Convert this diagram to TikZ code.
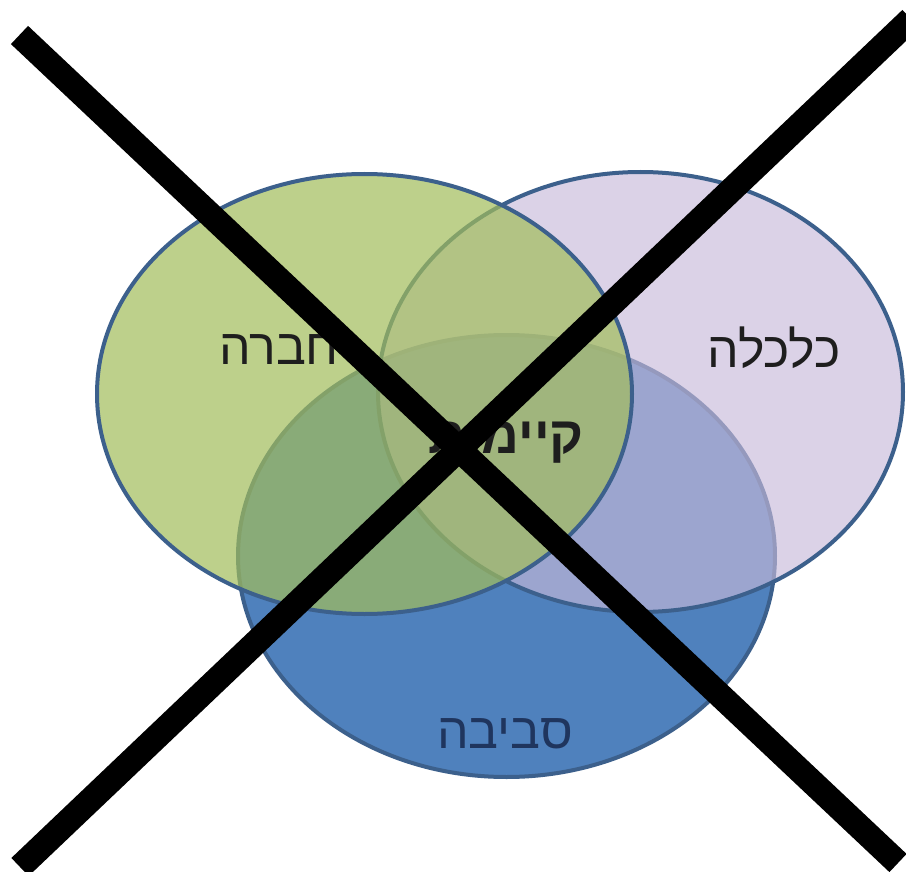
\documentclass[tikz,border=0pt]{standalone}
\usepackage{fontspec}
\usetikzlibrary{shapes.geometric}
\newfontfamily\hebfont[Script=Hebrew]{Liberation Sans}
\TeXXeTstate=1
\definecolor{edgeblue}{RGB}{60,96,140}
\definecolor{vgreen}{RGB}{162,189,91}
\definecolor{vpurple}{RGB}{200,186,218}
\definecolor{vblue}{RGB}{79,129,189}
\definecolor{txtdark}{RGB}{30,30,30}
\definecolor{txtblue}{RGB}{31,53,94}
\tikzset{
  venn/.style={ellipse, draw=edgeblue, line width=4pt, inner sep=0pt},
  lbl/.style={font=\hebfont\fontsize{50}{60}\selectfont, inner sep=0pt},
  crossline/.style={line width=25pt, black, line cap=butt}
}
\begin{document}
\begin{tikzpicture}[x=1pt,y=-1pt]
\useasboundingbox (0,0) rectangle (906,872);
\fill[white] (0,0) rectangle (906,872);
\node[venn, fill=vblue, minimum width=537pt, minimum height=442pt] (blue) at (506.5,556) {};
\node[venn, fill=vpurple, fill opacity=0.64, minimum width=525pt, minimum height=440pt] (purple) at (640.5,392) {};
\node[venn, fill=vgreen, fill opacity=0.7, minimum width=535pt, minimum height=440pt] (green) at (364.5,394) {};
\node[lbl, text=txtdark] (society) at (279,350) {\beginR חברה\endR};
\node[lbl, text=txtdark] (economy) at (774,348) {\beginR כלכלה\endR};
\node[lbl, text=txtblue] (environment) at (505,734) {\beginR סביבה\endR};
\node[lbl, text=txtdark, font=\hebfont\bfseries\fontsize{52}{62}\selectfont, anchor=east] (sustain) at (584,443) {\beginR קיימות\endR};
\coordinate (a1) at (19.5,35);
\coordinate (a2) at (898,863);
\coordinate (b1) at (911,19);
\coordinate (b2) at (20,867);
\draw[crossline] (a1) -- (a2);
\draw[crossline] (b1) -- (b2);
\end{tikzpicture}
\end{document}
